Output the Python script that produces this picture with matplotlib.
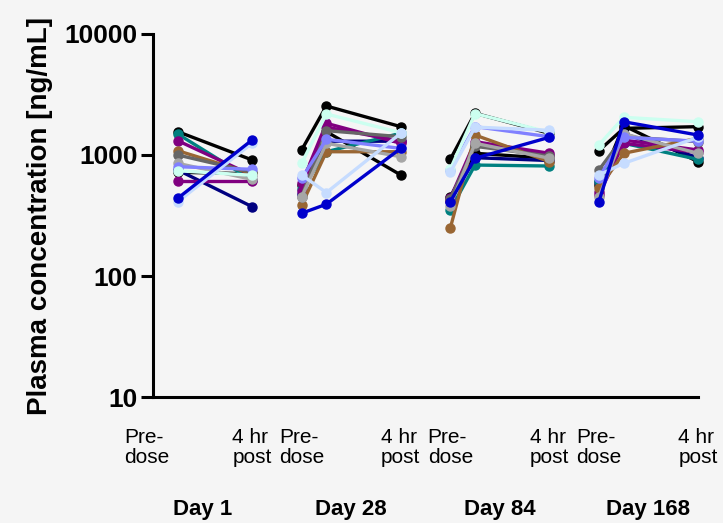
import numpy as np
import matplotlib
matplotlib.use("Agg")
import matplotlib.pyplot as plt
import matplotlib.transforms as mtransforms

plt.rcParams['font.family'] = ['Liberation Sans', 'DejaVu Sans']

days = ['Day 1', 'Day 28', 'Day 84', 'Day 168']
timepoints = ['Pre-\ndose', '4 hr\npost']

# per subject: Day 1 (first, post), then Day 28 / 84 / 168 (pre, peak, post)
subject_colors = ['#000000', '#000000', '#000080', '#008080', '#800080', '#800080',
                  '#996633', '#666666', '#a6a6a6', '#8080ff', '#ccfff0', '#c6dcff', '#0000cc']

day1 = [[1560, 910], [720, 700], [752, 374], [1492, 620], [1313, 680], [604, 604],
        [1086, 700], [1000, 720], [853, 629], [800, 762], [741, 680], [411, 1250], [439, 1330]]
day28 = [[1100, 2540, 1715], [560, 1560, 684], [480, 1300, 1300], [520, 1064, 1514],
         [583, 1828, 1250], [500, 1700, 1300], [386, 1064, 1064], [452, 1589, 1416],
         [450, 1250, 968], [641, 1349, 1134], [853, 2183, 1529], [684, 489, 1510], [330, 392, 1134]]
day84 = [[920, 2213, 1510], [452, 1033, 940], [420, 950, 900], [351, 826, 811],
         [438, 1289, 1033], [420, 1200, 1000], [248, 1462, 881], [435, 1180, 980],
         [380, 1250, 940], [752, 1715, 1416], [760, 2200, 1540], [720, 1700, 1600], [411, 940, 1400]]
day168 = [[1086, 1660, 1715], [560, 1750, 881], [600, 1500, 950], [604, 1250, 920],
          [498, 1330, 1100], [470, 1250, 1050], [531, 1033, 1374], [752, 1416, 1289],
          [452, 1500, 1033], [650, 1400, 1300], [1210, 2048, 1883], [684, 853, 1400], [411, 1883, 1462]]

group_gap = 1.5
rel_x3 = np.array([0.0, 0.25, 1.0])
rel_x2 = np.array([0.25, 1.0])

fig = plt.figure(figsize=(7.23, 5.23), dpi=100, facecolor='#f5f5f5')
ax = fig.add_axes([0.2116, 0.2409, 0.7538, 0.6941])
ax.set_facecolor('#f5f5f5')

for i, c in enumerate(subject_colors):
    ax.plot(rel_x2, day1[i], color=c, lw=2.4, marker='o', ms=6.5, clip_on=False, zorder=3 + i)
    for g, vals in enumerate([day28, day84, day168], start=1):
        ax.plot(g * group_gap + rel_x3, vals[i], color=c, lw=2.4, marker='o', ms=6.5,
                clip_on=False, zorder=3 + i)

ax.set_yscale('log')
ax.set_ylim(10, 10000)
ax.set_xlim(0, 3 * group_gap + 1)
ax.set_yticks([10, 100, 1000, 10000])
ax.set_yticklabels(['10', '100', '1000', '10000'], fontsize=19, fontweight='bold')
ax.yaxis.set_minor_locator(matplotlib.ticker.NullLocator())
ax.tick_params(axis='y', length=9, width=2.2, pad=2)
ax.set_xticks([])
for s in ['top', 'right']:
    ax.spines[s].set_visible(False)
for s in ['left', 'bottom']:
    ax.spines[s].set_linewidth(2.2)

ax.set_ylabel('Plasma concentration [ng/mL]', fontsize=20, fontweight='bold', labelpad=8)

trans = mtransforms.blended_transform_factory(ax.transData, ax.transAxes)
for g, day in enumerate(days):
    for k, lab in zip([0.0, 1.0], timepoints):
        xoff = -0.06 if (g == 0 and k == 0.0) else 0.0
        ax.text(g * group_gap + k + xoff, -0.085, lab, transform=trans, ha='center', va='top',
                multialignment='left', fontsize=15, linespacing=1.1)
    ax.text(g * group_gap + 0.5, -0.31, day, transform=trans, ha='center', va='center',
            fontsize=16, fontweight='bold')

fig.savefig('out.png', dpi=100, facecolor=fig.get_facecolor())
